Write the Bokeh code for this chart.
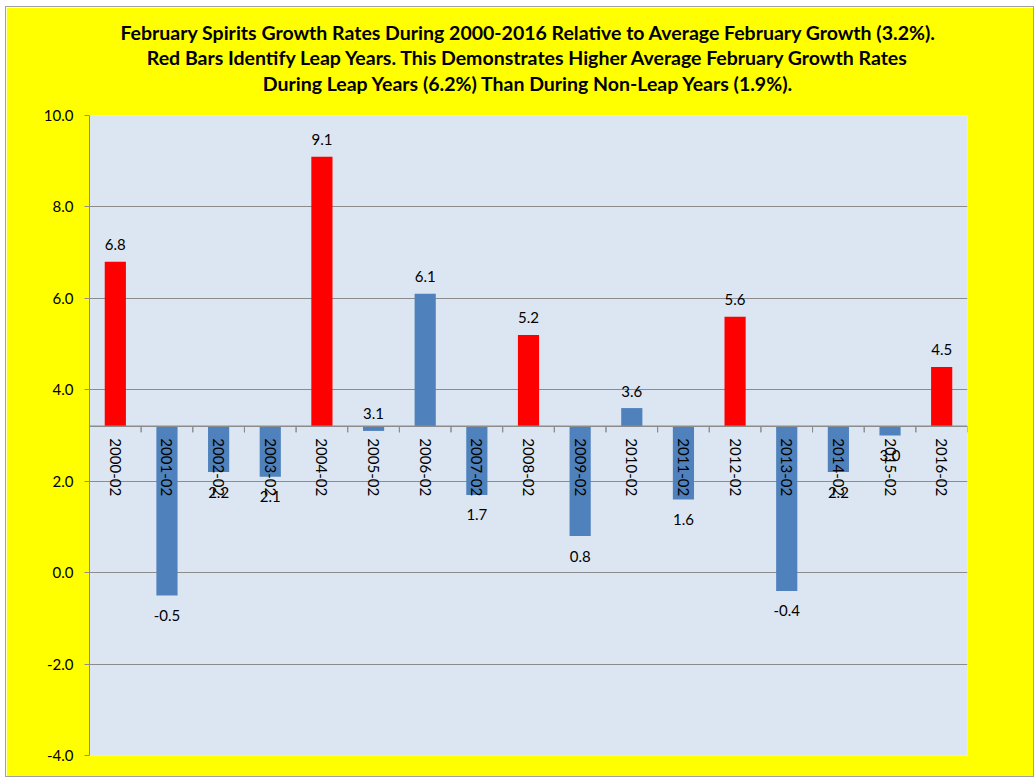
import numpy as np
from bokeh.plotting import figure
from bokeh.models import (ColumnDataSource, FactorRange, Range1d, FixedTicker,
                          NumeralTickFormatter, Span, Title)
from bokeh.transform import dodge
from bokeh.core.properties import value
from bokeh.embed import file_html
from bokeh.resources import INLINE

# ---- data ----
months = ["2000-02", "2001-02", "2002-02", "2003-02", "2004-02", "2005-02",
          "2006-02", "2007-02", "2008-02", "2009-02", "2010-02", "2011-02",
          "2012-02", "2013-02", "2014-02", "2015-02", "2016-02"]
growth = [6.8, -0.5, 2.2, 2.1, 9.1, 3.1, 6.1, 1.7, 5.2, 0.8, 3.6, 1.6,
          5.6, -0.4, 2.2, 3.0, 4.5]
leap = [True, False, False, False, True, False, False, False, True, False,
        False, False, True, False, False, False, True]
avg_growth = 3.2
y_ticks = [-4, -2, 0, 2, 4, 6, 8, 10]
title_lines = [
    "February Spirits Growth Rates During 2000-2016 Relative to Average February Growth (3.2%).",
    "Red Bars Identify Leap Years. This Demonstrates Higher Average February Growth Rates",
    "During Leap Years (6.2%) Than During Non-Leap Years (1.9%).",
]

RED = "#FF0000"
BLUE = "#4F81BD"
YELLOW = "#FFFF00"
PLOT_BG = "#DCE6F2"
GRID = "#8C8C8C"
FONT = "Lato"

colors = [RED if l else BLUE for l in leap]
labels = [f"{v:.1f}" for v in growth]
up = [v > avg_growth - 0.15 for v in growth]

src = ColumnDataSource(dict(month=months, growth=growth, color=colors,
                            label=labels, base=[avg_growth] * len(months)))
src_up = ColumnDataSource(dict(month=[m for m, u in zip(months, up) if u],
                               growth=[g for g, u in zip(growth, up) if u],
                               label=[l for l, u in zip(labels, up) if u]))
src_dn = ColumnDataSource(dict(month=[m for m, u in zip(months, up) if not u],
                               growth=[g for g, u in zip(growth, up) if not u],
                               label=[l for l, u in zip(labels, up) if not u]))

p = figure(width=1027, height=769, x_range=FactorRange(factors=months),
           y_range=Range1d(-4, 10), output_backend="svg", toolbar_location=None,
           title=None, min_border_left=83, min_border_right=66,
           min_border_top=108, min_border_bottom=21)
p.margin = (7, 0, 0, 6)

p.background_fill_color = PLOT_BG
p.border_fill_color = YELLOW
p.outline_line_color = None

# blank spacer between the plot area and the title block
p.add_layout(Title(text=" ", text_font=FONT, text_font_size="15px",
                   standoff=0), "above")
# added bottom line first so that it sits closest to the plot
for line, gap in zip(reversed(title_lines), [1, 1, 0]):
    t = Title(text=line, align="center", text_font=FONT,
              text_font_style="bold", text_font_size="19.5px",
              text_color="#000000", standoff=gap)
    p.add_layout(t, "above")

p.xaxis.visible = False
p.xgrid.visible = False

p.yaxis.ticker = FixedTicker(ticks=y_ticks)
p.yaxis.formatter = NumeralTickFormatter(format="0.0")
p.yaxis.major_label_text_font = FONT
p.yaxis.major_label_text_font_size = "15px"
p.yaxis.major_label_text_color = "#000000"
p.yaxis.axis_line_color = GRID
p.yaxis.major_tick_line_color = GRID
p.yaxis.major_tick_out = 5
p.yaxis.major_tick_in = 0
p.yaxis.minor_tick_line_color = None
p.yaxis.major_label_standoff = 11

p.ygrid.grid_line_color = GRID
p.ygrid.grid_line_width = 1

# bars from the average line
p.vbar(x="month", bottom="base", top="growth", width=0.41, fill_color="color",
       line_color=None, source=src)

# category baseline at the average
p.add_layout(Span(location=avg_growth, dimension="width", line_color=GRID,
                  line_width=1.5))
# tick marks on the category baseline (category boundaries)
p.ray(x=dodge("month", -0.5, range=p.x_range), y="base", length=6,
      length_units="screen", angle=-np.pi / 2, line_color=GRID, line_width=1,
      source=src)
p.ray(x=dodge("month", 0.5, range=p.x_range), y="base", length=6,
      length_units="screen", angle=-np.pi / 2, line_color=GRID, line_width=1,
      source=src)

# category labels, rotated, hanging below the baseline
p.text(x="month", y="base", text="month", angle=-np.pi / 2, y_offset=12,
       text_align="left", text_baseline="middle", text_font=value(FONT),
       text_font_size="15px", text_color="#000000", source=src)

# value labels
p.text(x="month", y="growth", text="label", y_offset=-17, text_align="center",
       text_baseline="middle", text_font=value(FONT), text_font_size="15px",
       text_color="#000000", source=src_up)
p.text(x="month", y="growth", text="label", y_offset=20, text_align="center",
       text_baseline="middle", text_font=value(FONT), text_font_size="15px",
       text_color="#000000", source=src_dn)

p.styles = {"outline": "1px solid #A0A0A0"}

open("out.html", "w").write(file_html(p, INLINE))
